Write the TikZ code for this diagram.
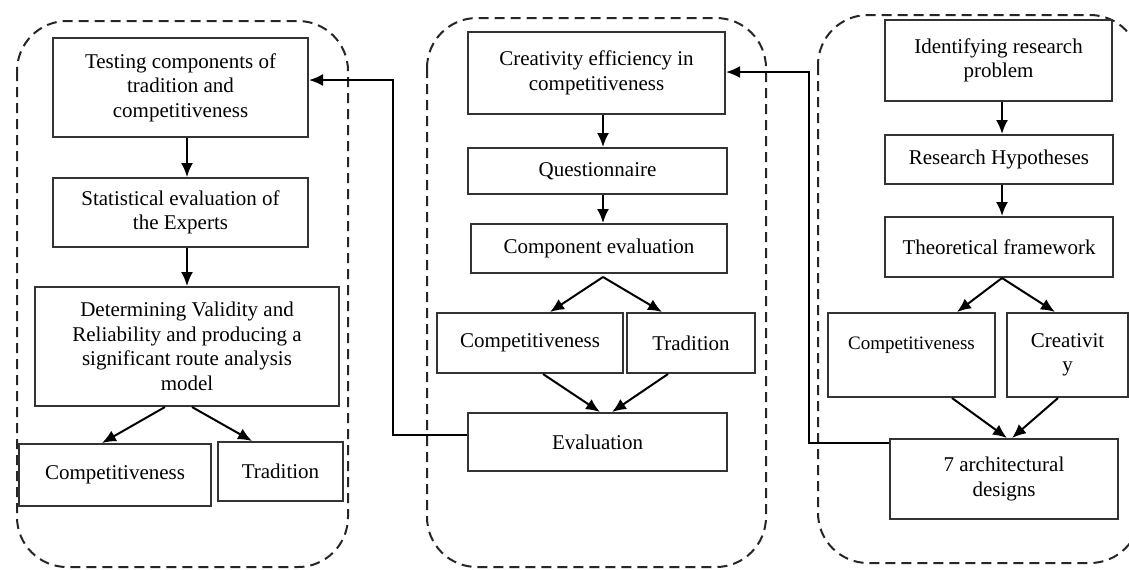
\documentclass[tikz,border=0pt]{standalone}
\usepackage{fontspec}
\setmainfont{Liberation Serif}
\usetikzlibrary{arrows.meta}

\begin{document}
\begin{tikzpicture}[x=0.5pt,y=-0.5pt,>={Latex[length=7pt,width=6pt]}]

% one unit is one pixel of the 1129 x 569 frame
\def\u{0.5pt}
% style definitions
\tikzstyle{block} = [
	draw=black!80, line width=1pt, rectangle, align=center,
	inner sep=1pt, font=\fontsize{10.5}{12.25}\selectfont ];
\tikzstyle{group} = [draw=black!85, line width=1pt,
	dash pattern=on 5pt off 3pt, rounded corners=25pt];
\tikzstyle{link} = [->, line width=1pt];

\useasboundingbox (0,0) rectangle (1129,569);

% dashed groups
\draw[group] (17,21) rectangle (348,567);
\draw[group] (427,18) rectangle (766,567);
\draw[group] (818,15) rectangle (1140,563);

% left column
\node[block, minimum width=255*\u, minimum height=99*\u] (test) at (180.5,87.5)
	{Testing components of\\ tradition and\\ competitiveness};
\node[block, minimum width=255*\u, minimum height=69*\u] (stat) at (180.5,212.5)
	{Statistical evaluation of\\ the Experts};
\node[block, minimum width=304*\u, minimum height=119*\u] (det) at (187,346.5)
	{Determining Validity and\\ Reliability and producing a\\ significant route analysis\\ model};
\node[block, minimum width=192*\u, minimum height=62*\u] (comL) at (115,475) {Competitiveness};
\node[block, minimum width=125*\u, minimum height=59*\u] (traL) at (280.5,471.5) {Tradition};

\draw[link] (test.south -| det.north) -- (stat.north -| det.north);
\draw[link] (stat.south -| det.north) -- (det.north);
\draw[link] ([xshift=-11pt]det.south) -- ([xshift=-6.5pt]comL.north);
\draw[link] ([xshift=2.5pt]det.south) -- ([xshift=-14.25pt]traL.north);

% middle column
\node[block, minimum width=257*\u, minimum height=82*\u] (cre) at (596.5,73)
	{Creativity efficiency in\\ competitiveness};
\node[block, minimum width=259*\u, minimum height=46*\u] (que) at (597.5,171) {Questionnaire};
\node[block, minimum width=256*\u, minimum height=49*\u] (cev) at (599,248.5) {Component evaluation};
\node[block, minimum width=186*\u, minimum height=60*\u] (comM) at (530,343) {Competitiveness};
\node[block, minimum width=128*\u, minimum height=60*\u] (traM) at (691,343) {Tradition};
\node[block, minimum width=259*\u, minimum height=58*\u] (eva) at (597.5,442) {Evaluation};

\coordinate (cevB) at (603,277);
\draw[link] (cre.south -| cevB) -- (que.north -| cevB);
\draw[link] (que.south -| cevB) -- (cev.north -| cevB);
\draw[link] (cevB) -- ([xshift=10pt]comM.north);
\draw[link] (cevB) -- ([xshift=-14.5pt]traM.north);
\draw[link] ([xshift=6.5pt]comM.south) -- ([xshift=1.25pt]eva.north);
\draw[link] ([xshift=-11.5pt]traM.south) -- ([xshift=7.25pt]eva.north);

% right column
\node[block, minimum width=227*\u, minimum height=81*\u] (idf) at (998.5,60.5)
	{Identifying research\\ problem};
\node[block, minimum width=228*\u, minimum height=49*\u] (hyp) at (999,159.5) {Research Hypotheses};
\node[block, minimum width=228*\u, minimum height=60*\u] (thf) at (999,247) {Theoretical framework};
\node[block, minimum width=167*\u, minimum height=84*\u, font=\fontsize{9.5}{12.25}\selectfont]
	(comR) at (911.5,355) {Competitiveness\\ \mbox{}};
\node[block, minimum width=121*\u, minimum height=84*\u] (creR) at (1067.5,355) {Creativit\\ y};
\node[block, minimum width=228*\u, minimum height=80*\u] (arc) at (1004,479)
	{7 architectural\\ designs};

\coordinate (thfB) at (1002,278);
\draw[link] (idf.south -| thfB) -- (hyp.north -| thfB);
\draw[link] (hyp.south -| thfB) -- (thf.north -| thfB);
\draw[link] (thfB) -- ([xshift=22.75pt]comR.north);
\draw[link] (thfB) -- ([xshift=-6.25pt]creR.north);
\draw[link] ([xshift=20.25pt]comR.south) -- ([xshift=1.5pt]arc.north);
\draw[link] ([xshift=-4.75pt]creR.south) -- ([xshift=4pt]arc.north);

% feedback lines
\coordinate (lcorner) at (393,80);
\draw[link] ([yshift=3.5pt]eva.west) -| (lcorner) -- (test.east |- lcorner);
\coordinate (rcorner) at (809,72);
\draw[link] ([yshift=18pt]arc.west) -| (rcorner) -- (cre.east |- rcorner);

\end{tikzpicture}
\end{document}
